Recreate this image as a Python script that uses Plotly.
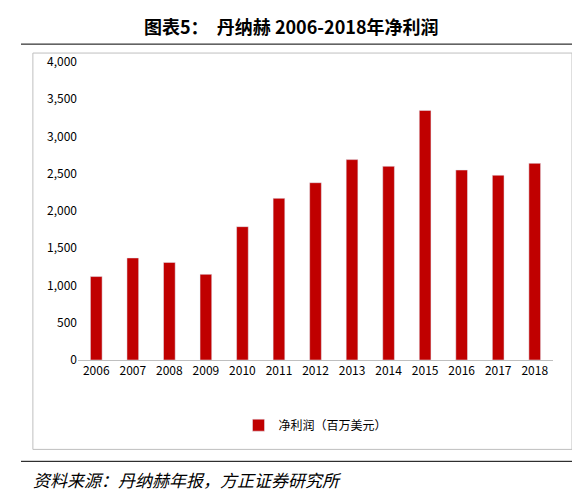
import plotly.graph_objects as go

years = [str(y) for y in range(2006, 2019)]
profit = [1120, 1370, 1310, 1150, 1790, 2170, 2380, 2690, 2600, 3350, 2550, 2480, 2640]
series_name = "净利润（百万美元）"

fig = go.Figure(go.Bar(x=years, y=profit, name=series_name, marker_color="#C00000", width=0.32))
fig.update_layout(
    width=580, height=498, paper_bgcolor="white", plot_bgcolor="white",
    margin=dict(l=70, r=35, t=54, b=146),
    font=dict(family="Noto Sans CJK SC", size=12, color="#000"),
    showlegend=True,
    legend=dict(orientation="h", x=0.5, xanchor="center", y=-0.17, yanchor="top", font=dict(size=12)),
    yaxis=dict(range=[0, 4000], dtick=500, tickformat=",", showgrid=False, zeroline=False,
               showline=False, ticks="", tickfont=dict(size=12)),
    xaxis=dict(showline=True, linecolor="#BFBFBF", ticks="", tickfont=dict(size=12)),
    shapes=[
        dict(type="rect", xref="paper", yref="paper", x0=-0.095, x1=1.04, y0=-0.30, y1=1.03,
             line=dict(color="#BFBFBF", width=1)),
        dict(type="line", xref="paper", yref="paper", x0=-0.12, x1=1.06, y0=1.06, y1=1.06,
             line=dict(color="#000", width=1)),
        dict(type="line", xref="paper", yref="paper", x0=-0.12, x1=1.06, y0=-0.34, y1=-0.34,
             line=dict(color="#000", width=1)),
    ],
    annotations=[
        dict(text="<b>图表5：  丹纳赫 2006-2018年净利润</b>", xref="paper", yref="paper",
             x=0.45, y=1.12, xanchor="center", yanchor="middle", showarrow=False,
             font=dict(size=18, family="Noto Sans CJK SC")),
        dict(text="<i>资料来源：丹纳赫年报，方正证券研究所</i>", xref="paper", yref="paper",
             x=-0.1, y=-0.40, xanchor="left", yanchor="middle", showarrow=False,
             font=dict(size=17, family="Noto Sans CJK SC")),
    ],
)
fig.write_html("out.html")
